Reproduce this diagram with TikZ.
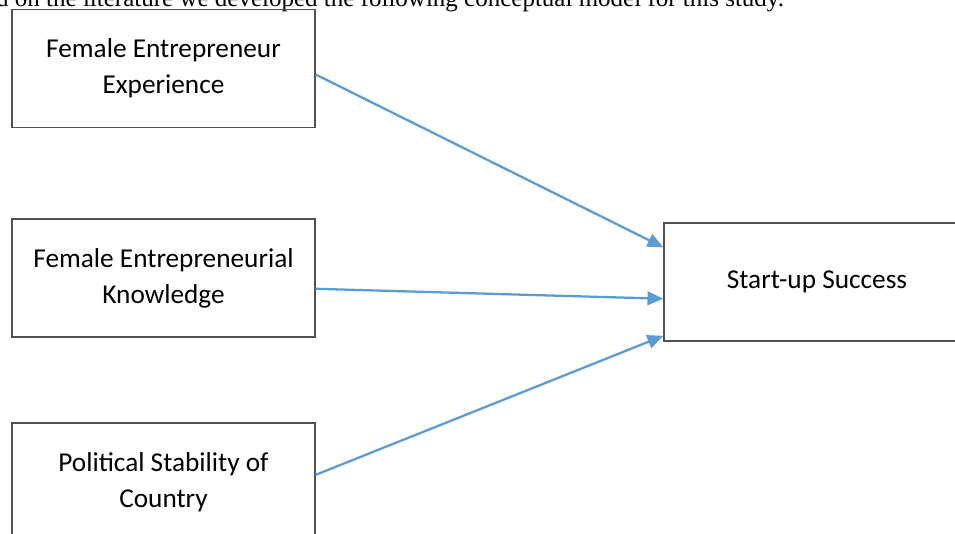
\documentclass[tikz,border=0pt]{standalone}
\usepackage{fontspec}
\setmainfont{Liberation Serif}
\newfontfamily\boxfont{Carlito}
\usepackage{xcolor}
\usepackage{tikz}
\usetikzlibrary{calc,arrows.meta}
\definecolor{linkblue}{HTML}{5B9BD5}
\definecolor{boxgray}{HTML}{505050}

\begin{document}
\begin{tikzpicture}[x=0.44pt,y=-0.44pt,
        box/.style={draw=boxgray,line width=0.6pt,minimum width=133.3pt,minimum height=52pt,
            inner sep=0pt,align=center,font=\boxfont\fontsize{12}{15.8}\selectfont},
        link/.style={-{Triangle[length=7pt,width=6pt]},draw=linkblue,line width=1pt}]
            \useasboundingbox (0,0) rectangle (955,533);
            \clip (0,0) rectangle (955,533);
            \node[anchor=base east,font=\fontsize{11}{13}\selectfont] (intro) at (792,6)
                {Based on the literature we developed the following conceptual model for this study.};
            \node[box] (exp) at (163.5,68.5) {Female Entrepreneur\\Experience};
            \node[box] (know) at (163.5,278) {Female Entrepreneurial\\Knowledge};
            \node[box] (pol) at (163.5,482) {Political Stability of\\Country};
            \node[box,minimum width=134.6pt] (succ) at (817,282) {Start-up Success};
            % arrows into the outcome
            \draw[link] ($(exp.north east)!0.55!(exp.south east)$) -- ($(succ.north west)!0.21!(succ.south west)$);
            \draw[link] ($(know.north east)!0.59!(know.south east)$) -- ($(succ.north west)!0.64!(succ.south west)$);
            \draw[link] ($(pol.north east)!0.44!(pol.south east)$) -- ($(succ.north west)!0.95!(succ.south west)$);
        \end{tikzpicture}
\end{document}
